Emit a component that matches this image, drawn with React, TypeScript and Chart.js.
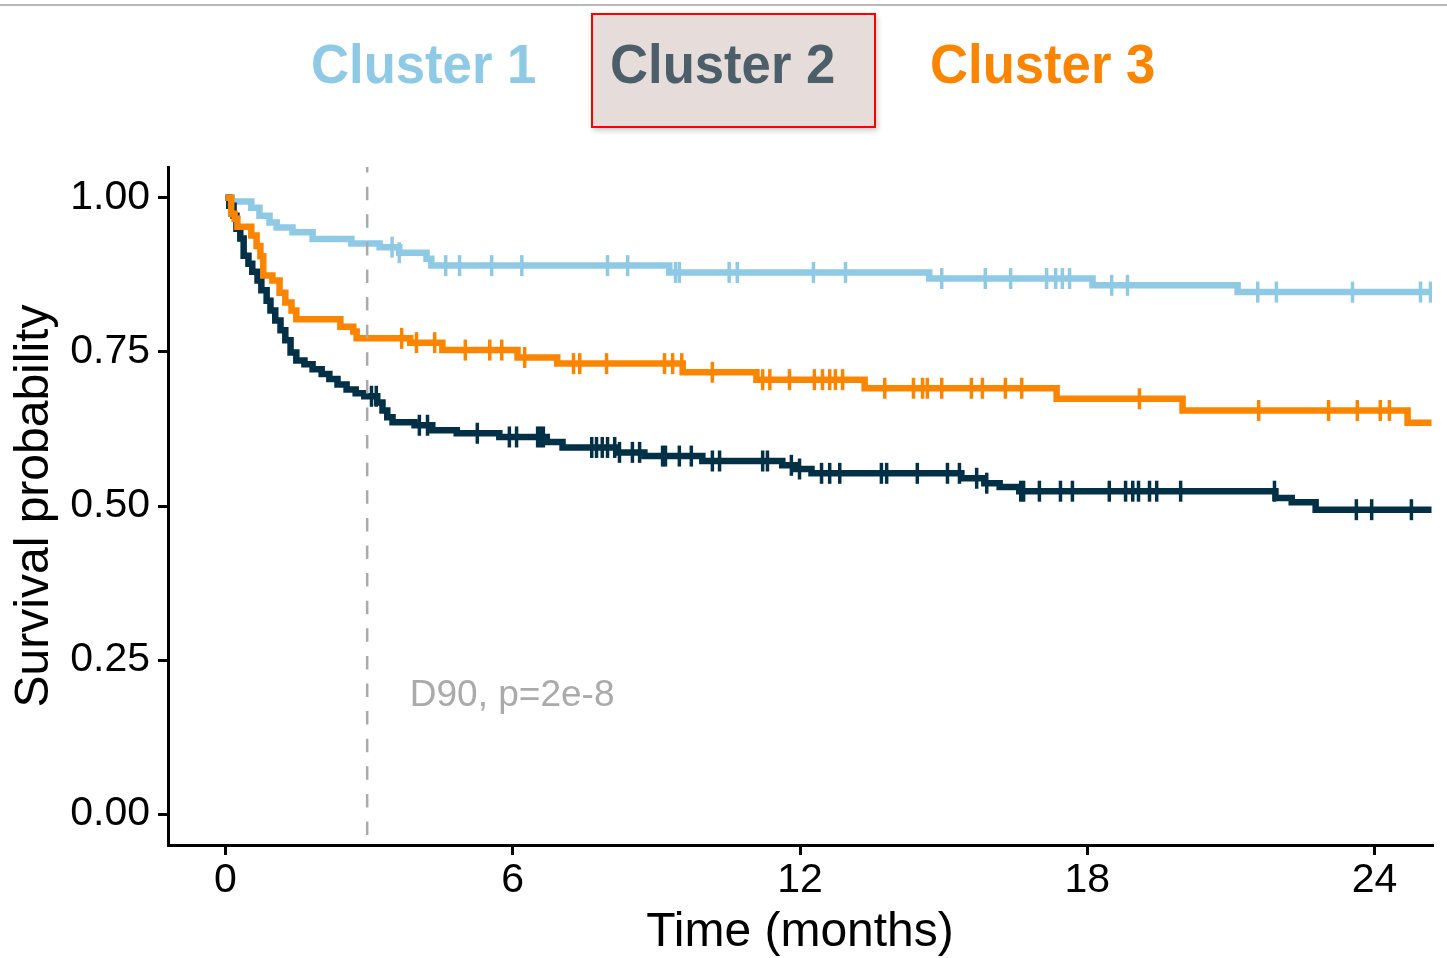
import React, { useEffect, useRef } from "react";
import { Chart, registerables } from "chart.js";

Chart.register(...registerables);

// ---------- data ----------
const clusterNames = ["Cluster 1", "Cluster 2", "Cluster 3"];
const clusterColors = ["#8ecae6", "#023047", "#fb8500"];

// Cluster 1 (light blue)
const cluster1Times = [0, 0.13, 0.54, 0.71, 0.92, 1.07, 1.4, 1.82, 2.63, 3.22, 3.63, 4.2, 4.3, 9.27, 14.7, 18.11, 21.14, 25.19];
const cluster1Surv = [1.0, 0.994, 0.984, 0.971, 0.96, 0.952, 0.944, 0.933, 0.926, 0.92, 0.911, 0.901, 0.89, 0.879, 0.869, 0.858, 0.847, 0.847];
const cluster1Censor = [3.48, 3.63, 4.6, 4.89, 5.56, 6.19, 7.98, 8.4, 9.4, 9.48, 10.52, 10.69, 12.28, 12.95, 14.96, 15.87, 16.4, 17.15, 17.34, 17.48, 17.63, 18.51, 18.84, 21.56, 21.95, 23.54, 24.96, 25.17];

// Cluster 2 (navy)
const cluster2Times = [0, 0.08, 0.17, 0.23, 0.31, 0.38, 0.48, 0.56, 0.67, 0.75, 0.86, 0.94, 1.04, 1.15, 1.25, 1.36, 1.48, 1.65, 1.82, 2.01, 2.17, 2.34, 2.53, 2.72, 2.9, 3.17, 3.28, 3.38, 3.49, 3.95, 4.32, 4.83, 5.72, 6.71, 7.04, 8.17, 8.75, 9.96, 11.63, 11.89, 12.24, 15.37, 15.85, 16.17, 16.58, 21.93, 22.27, 22.77, 25.19];
const cluster2Surv = [1.0, 0.987, 0.971, 0.95, 0.934, 0.906, 0.893, 0.88, 0.866, 0.85, 0.833, 0.817, 0.801, 0.785, 0.769, 0.749, 0.736, 0.73, 0.722, 0.714, 0.706, 0.697, 0.689, 0.683, 0.678, 0.668, 0.655, 0.644, 0.636, 0.631, 0.623, 0.618, 0.612, 0.604, 0.595, 0.587, 0.581, 0.573, 0.566, 0.56, 0.553, 0.545, 0.537, 0.531, 0.524, 0.513, 0.506, 0.494, 0.494];
const cluster2Censor = [3.05, 3.15, 4.05, 4.22, 5.26, 5.93, 6.08, 6.52, 6.58, 6.64, 7.65, 7.75, 7.87, 7.98, 8.13, 8.23, 8.5, 8.65, 9.13, 9.19, 9.48, 9.73, 10.17, 10.32, 11.22, 11.32, 11.82, 11.99, 12.45, 12.62, 12.83, 13.7, 13.81, 14.45, 15.08, 15.33, 15.69, 15.9, 16.61, 16.67, 17.0, 17.44, 17.69, 18.46, 18.8, 18.95, 19.07, 19.3, 19.45, 19.95, 21.91, 23.62, 23.94, 24.77];

// Cluster 3 (orange)
const cluster3Times = [0, 0.12, 0.19, 0.25, 0.54, 0.65, 0.73, 0.79, 0.98, 1.13, 1.25, 1.38, 1.48, 2.4, 2.67, 2.74, 3.86, 4.53, 6.1, 6.93, 9.55, 11.09, 13.35, 17.36, 19.99, 24.69, 25.19];
const cluster3Surv = [1.0, 0.974, 0.966, 0.953, 0.939, 0.922, 0.905, 0.874, 0.866, 0.846, 0.83, 0.817, 0.803, 0.791, 0.783, 0.772, 0.765, 0.753, 0.741, 0.731, 0.717, 0.705, 0.691, 0.674, 0.655, 0.635, 0.635];
const cluster3Censor = [3.68, 3.99, 4.37, 5.01, 5.52, 5.77, 6.25, 7.27, 7.4, 7.96, 9.17, 9.34, 9.53, 10.17, 11.22, 11.37, 11.78, 12.3, 12.47, 12.62, 12.74, 12.89, 13.77, 14.37, 14.56, 14.66, 14.96, 15.58, 15.81, 16.29, 16.63, 19.09, 21.58, 23.04, 23.64, 24.12, 24.31];

const xTickValues = [0, 6, 12, 18, 24];
const xTickLabels = ["0", "6", "12", "18", "24"];
const yTickValues = [0, 0.25, 0.5, 0.75, 1.0];
const yTickLabels = ["0.00", "0.25", "0.50", "0.75", "1.00"];

const d90Month = 2.96;
const annotationText = "D90, p=2e-8";
const annotationX = 3.85;
const annotationY = 0.176;

const FONT = "'Liberation Sans', Arial, Helvetica, sans-serif";

function stepValueAt(times: number[], surv: number[], t: number): number {
  let v = surv[0];
  for (let i = 0; i < times.length; i++) {
    if (times[i] <= t) v = surv[i];
    else break;
  }
  return v;
}

function curvePoints(times: number[], surv: number[]) {
  return times.map((t, i) => ({ x: t, y: surv[i] }));
}

function censorPoints(times: number[], surv: number[], censor: number[]) {
  return censor.map((t) => ({ x: t, y: stepValueAt(times, surv, t) }));
}

const d90Plugin = {
  id: "d90Line",
  afterDatasetsDraw(chart: any) {
    const { ctx, chartArea, scales } = chart;
    const x = scales.x.getPixelForValue(d90Month);
    ctx.save();
    ctx.strokeStyle = "#aaaaaa";
    ctx.lineWidth = 2.5;
    ctx.setLineDash([13.5, 14.1]);
    ctx.lineDashOffset = 7.9;
    ctx.beginPath();
    ctx.moveTo(x, chartArea.top);
    ctx.lineTo(x, chartArea.bottom);
    ctx.stroke();
    ctx.setLineDash([]);
    ctx.fillStyle = "#aaaaaa";
    ctx.font = `37px ${FONT}`;
    ctx.textBaseline = "alphabetic";
    ctx.textAlign = "left";
    ctx.fillText(annotationText, scales.x.getPixelForValue(annotationX), scales.y.getPixelForValue(annotationY));
    ctx.restore();
  },
};

export default function App() {
  const canvasRef = useRef<HTMLCanvasElement | null>(null);

  useEffect(() => {
    if (!canvasRef.current) return;
    const series = [
      { times: cluster3Times, surv: cluster3Surv, censor: cluster3Censor, color: clusterColors[2], name: clusterNames[2] },
      { times: cluster2Times, surv: cluster2Surv, censor: cluster2Censor, color: clusterColors[1], name: clusterNames[1] },
      { times: cluster1Times, surv: cluster1Surv, censor: cluster1Censor, color: clusterColors[0], name: clusterNames[0] },
    ];
    const datasets: any[] = [];
    series.forEach((s) => {
      datasets.push({
        label: s.name + " censored",
        data: censorPoints(s.times, s.surv, s.censor),
        showLine: false,
        pointStyle: "line",
        pointRotation: 90,
        pointRadius: 10.5,
        pointHoverRadius: 10.5,
        pointBorderWidth: 3.5,
        pointBorderColor: s.color,
        pointBackgroundColor: s.color,
        borderColor: s.color,
      });
      datasets.push({
        label: s.name,
        data: curvePoints(s.times, s.surv),
        stepped: true,
        borderColor: s.color,
        borderWidth: 6.5,
        pointRadius: 0,
        pointHoverRadius: 0,
        fill: false,
        tension: 0,
      });
    });

    const chart = new Chart(canvasRef.current, {
      type: "line",
      data: { datasets },
      options: {
        animation: false,
        responsive: false,
        devicePixelRatio: 1,
        events: [],
        layout: { padding: { top: 167, right: 15, bottom: 0, left: 0 } },
        plugins: { legend: { display: false }, tooltip: { enabled: false } },
        scales: {
          x: {
            type: "linear",
            min: -1.2,
            max: 25.2,
            afterBuildTicks: (s: any) => {
              s.ticks = xTickValues.map((v) => ({ value: v }));
            },
            afterFit: (s: any) => {
              s.height = 113;
            },
            grid: { display: true, drawOnChartArea: false, drawTicks: true, tickLength: 10, color: "#000", lineWidth: 3 },
            border: { display: true, color: "#000", width: 3 },
            ticks: {
              color: "#000",
              font: { family: FONT, size: 41 },
              padding: 1,
              maxRotation: 0,
              autoSkip: false,
              callback: (v: any) => xTickLabels[xTickValues.indexOf(Number(v))],
            },
            title: {
              display: true,
              text: "Time (months)",
              color: "#000",
              font: { family: FONT, size: 48, lineHeight: 1 },
              padding: { top: 0, bottom: 1 },
            },
          },
          y: {
            type: "linear",
            min: -0.05,
            max: 1.05,
            afterBuildTicks: (s: any) => {
              s.ticks = yTickValues.map((v) => ({ value: v }));
            },
            afterFit: (s: any) => {
              s.width = 168;
            },
            grid: { display: true, drawOnChartArea: false, drawTicks: true, tickLength: 10, color: "#000", lineWidth: 3 },
            border: { display: true, color: "#000", width: 3 },
            ticks: {
              color: "#000",
              font: { family: FONT, size: 41 },
              padding: 8,
              autoSkip: false,
              callback: (v: any) => yTickLabels[yTickValues.indexOf(Number(v))],
            },
            title: {
              display: true,
              text: "Survival probability",
              color: "#000",
              font: { family: FONT, size: 48, lineHeight: 1 },
              padding: { top: 11, bottom: 0 },
            },
          },
        },
      },
      plugins: [d90Plugin],
    } as any);
    return () => chart.destroy();
  }, []);

  const headerText = (text: string, left: number, color: string) => (
    <span
      style={{
        position: "absolute",
        left,
        top: 35.6,
        fontFamily: FONT,
        fontWeight: "bold",
        fontSize: 56,
        lineHeight: 1,
        color,
        whiteSpace: "nowrap",
        transform: "scaleX(0.94)",
        transformOrigin: "left top",
      }}
    >
      {text}
    </span>
  );

  return (
    <div style={{ position: "fixed", left: 0, top: 0, width: 1447, height: 958, background: "#fff", overflow: "hidden" }}>
      <canvas ref={canvasRef} width={1447} height={958} style={{ position: "absolute", left: 0, top: 0, width: 1447, height: 958 }} />
      <div style={{ position: "absolute", left: 0, top: 4, width: 1447, height: 2, background: "#b8b8b8" }} />
      <div
        style={{
          position: "absolute",
          left: 591,
          top: 13,
          width: 281,
          height: 111,
          border: "2px solid #ff0000",
          background: "#e6dcda",
          boxShadow: "2px 3px 5px rgba(0,0,0,0.18)",
        }}
      />
      {headerText(clusterNames[0], 311, "#8ecae6")}
      {headerText(clusterNames[1], 610, "#4b5e6a")}
      {headerText(clusterNames[2], 930, "#fb8500")}
    </div>
  );
}
